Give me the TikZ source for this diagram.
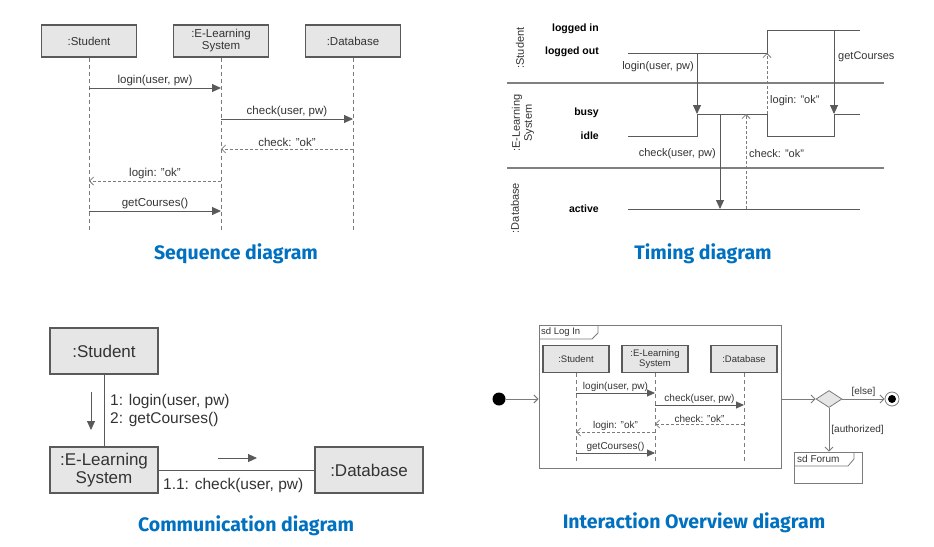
\documentclass[tikz,border=0pt]{standalone}
\usepackage{fontspec}
\setmainfont{Liberation Sans}
\newfontfamily\titlefont{Fira Sans}
\usetikzlibrary{arrows.meta, positioning, shapes.geometric}
\definecolor{linegray}{HTML}{5A5A5A}
\definecolor{boxgray}{HTML}{E6E6E6}
\definecolor{textgray}{HTML}{333333}
\definecolor{titleblue}{HTML}{0070C0}

\begin{document}
\begin{tikzpicture}[x=1pt, y=-1pt, obj/.style={
        rectangle,
        draw=linegray,
        fill=boxgray,
        line width=1.1pt,
        minimum width=95pt,
        minimum height=32pt,
        align=center,
        inner sep=1pt,
        text=textgray,
        font=\fontsize{11.5}{12}\selectfont
    }, cobj/.style={
        obj,
        minimum width=108pt,
        minimum height=46pt,
        font=\fontsize{17}{18}\selectfont
    }, sobj/.style={
        obj,
        minimum width=66pt,
        minimum height=27pt,
        font=\fontsize{9.5}{10}\selectfont
    }, life/.style={
        draw=linegray!80, line width=0.8pt, dash pattern=on 4pt off 3pt
    }, call/.style={
        draw=linegray, line width=0.9pt, -{Triangle[length=9pt, width=8pt]}
    }, reply/.style={
        draw=linegray!80, line width=0.8pt, dash pattern=on 3pt off 2pt,
        -{Straight Barb[length=4pt, width=8pt]}
    }, flow/.style={
        draw=linegray!80, line width=0.9pt, -{Straight Barb[length=4pt, width=8pt]}
    }, lbl/.style={
        text=textgray, inner sep=2pt, font=\fontsize{11.5}{12}\selectfont
    }, state/.style={
        anchor=east, inner sep=0pt, font=\fontsize{10.5}{12}\selectfont\bfseries
    }, lane/.style={
        rotate=90, align=center, text=textgray, font=\fontsize{11}{12}\selectfont
    }, title/.style={
        text=titleblue, font=\titlefont\fontsize{19.5}{22}\selectfont\bfseries
    }]
    \useasboundingbox (0,0) rectangle (934,546);

    % sequence diagram
    \node (stu) [obj] at (89,41) {:Student};
    \node (els) [obj] at (221,41) {:E-Learning\\System};
    \node (db) [obj] at (353,41) {:Database};
    \foreach \o in {stu,els,db}
        \draw [life] (\o) -- (\o |- 0,232);
    \draw [call] (stu |- 0,88) -- node[above, lbl] {login(user, pw)} (els |- 0,88);
    \draw [call] (els |- 0,119) -- node[above, lbl] {check(user, pw)} (db |- 0,119);
    \draw [reply] (db |- 0,149) -- node[above, lbl] {check: "ok"} (els |- 0,149);
    \draw [reply] (els |- 0,181) -- node[above, lbl] {login: "ok"} (stu |- 0,181);
    \draw [call] (stu |- 0,211) -- node[above, lbl] {getCourses()} (els |- 0,211);
    \node (tseq) [title] at (236,254) {Sequence diagram};

    % timing diagram
    \node (lstu) [lane] at (520,48) {:Student};
    \node (lels) [lane] at (523,123) {:E-Learning\\System};
    \node (ldb) [lane] at (515,208) {:Database};
    \node (sin) [state] at (599,29) {logged in};
    \node (sout) [state] at (599,52) {logged out};
    \node (sbusy) [state] at (599,113) {busy};
    \node (sidle) [state] at (599,136) {idle};
    \node (sact) [state] at (599,209) {active};
    \draw [draw=gray, line width=1.4pt] (507,83) -- (884,83);
    \draw [draw=gray, line width=1.4pt] (507,168) -- (884,168);
    \draw [draw=linegray, line width=0.9pt] (628,53) -- (767,53) -- (767,30) -- (860,30);
    \draw [draw=linegray, line width=0.9pt] (628,136) -- (697,136) -- (697,114) -- (767,114)
        -- (767,136) -- (834,136) -- (834,114) -- (860,114);
    \draw [draw=linegray, line width=0.9pt] (628,209) -- (860,209);
    \begin{scope}[lbl/.append style={font=\fontsize{11}{12}\selectfont}]
    \draw [call] (697,53) -- (697,114);
    \node [lbl, anchor=east] at (696,67) {login(user, pw)};
    \draw [call] (720,114) -- (720,209);
    \node [lbl, anchor=east] at (718,154) {check(user, pw)};
    \draw [reply] (746,209) -- (746,114);
    \node [lbl, anchor=west] at (747,154) {check: "ok"};
    \draw [reply] (767,114) -- (767,53);
    \node [lbl, anchor=west] at (768,101) {login: "ok"};
    \draw [call] (834,30) -- (834,114);
    \node [lbl, anchor=west] at (836,57) {getCourses};
    \end{scope}
    \node (ttim) [title] at (703,254) {Timing diagram};

    % communication diagram
    \node (cstu) [cobj] at (104,351) {:Student};
    \node (cels) [cobj] at (104,470) {:E-Learning\\System};
    \node (cdb) [cobj] at (369,470) {:Database};
    \draw [draw=linegray, line width=1pt] (cstu) -- (cels);
    \draw [draw=linegray, line width=1pt] (cels) -- (cdb);
    \draw [call] (91,392) -- (91,430);
    \node (cmsg1) [lbl, anchor=west, align=left, font=\fontsize{15.5}{18}\selectfont] at (108,410)
        {1: login(user, pw)\\2: getCourses()};
    \draw [call] (218,458) -- (257,458);
    \node (cmsg2) [lbl, anchor=west, font=\fontsize{15.5}{18}\selectfont] at (161,485)
        {1.1: check(user, pw)};
    \node (tcom) [title] at (246,526) {Communication diagram};

    % interaction overview diagram
    \node (login) [draw=linegray!80, line width=1pt, minimum width=242pt, minimum height=143pt] at (660,396.5) {};
    \draw [draw=linegray!80, line width=0.8pt] (539,339) -- (592,339) -- (598,333) -- (598,325);
    \node [lbl, anchor=west, font=\fontsize{9.5}{10}\selectfont] at (539,332) {sd Log In};
    \node (ostu) [sobj] at (576,359) {:Student};
    \node (oels) [sobj] at (655,359) {:E-Learning\\System};
    \node (odb) [sobj] at (744,359) {:Database};
    \foreach \o in {ostu,oels,odb}
        \draw [life] (\o) -- (\o |- 0,464);
    \begin{scope}[lbl/.append style={font=\fontsize{10}{11}\selectfont, inner sep=1pt},
        call/.append style={-{Triangle[length=8pt, width=7pt]}}]
    \draw [call] (ostu |- 0,393) -- node[above, lbl] {login(user, pw)} (oels |- 0,393);
    \draw [call] (oels |- 0,405) -- node[above, lbl] {check(user, pw)} (odb |- 0,405);
    \draw [reply] (odb |- 0,424) -- node[above, lbl] {check: "ok"} (oels |- 0,424);
    \draw [reply] (oels |- 0,432) -- node[above, lbl] {login: "ok"} (ostu |- 0,432);
    \draw [call] (ostu |- 0,453) -- node[above, lbl] {getCourses()} (oels |- 0,453);
    \end{scope}
    \node (init) [circle, fill=black, minimum size=13pt, inner sep=0pt] at (499,399) {};
    \draw [flow] (init) -- (init -| login.west);
    \node (dec) [diamond, draw=linegray!80, fill=boxgray, line width=0.8pt, minimum width=26pt,
        minimum height=17pt, inner sep=0pt] at (829,399) {};
    \draw [flow] (login.east |- dec) -- (dec);
    \node (final) [circle, draw=linegray!80, line width=0.8pt, minimum size=14pt, inner sep=0pt] at (892,399) {};
    \node (finaldot) [circle, fill=black, minimum size=8pt, inner sep=0pt] at (final) {};
    \draw [flow] (dec) -- node[above, lbl, font=\fontsize{10}{11}\selectfont] {[else]} (final);
    \node (forum) [draw=linegray!80, line width=0.8pt, minimum width=68pt, minimum height=31pt] at (828,467.5) {};
    \draw [draw=linegray!80, line width=0.8pt] (794,466) -- (848,466) -- (854,459) -- (854,452);
    \node [lbl, anchor=west, font=\fontsize{10}{11}\selectfont] at (795,459) {sd Forum};
    \draw [flow] (dec) -- node[right, lbl, font=\fontsize{10}{11}\selectfont] {[authorized]} (dec |- forum.north);
    \node (tio) [title] at (694,523) {Interaction Overview diagram};

\end{tikzpicture}
\end{document}
